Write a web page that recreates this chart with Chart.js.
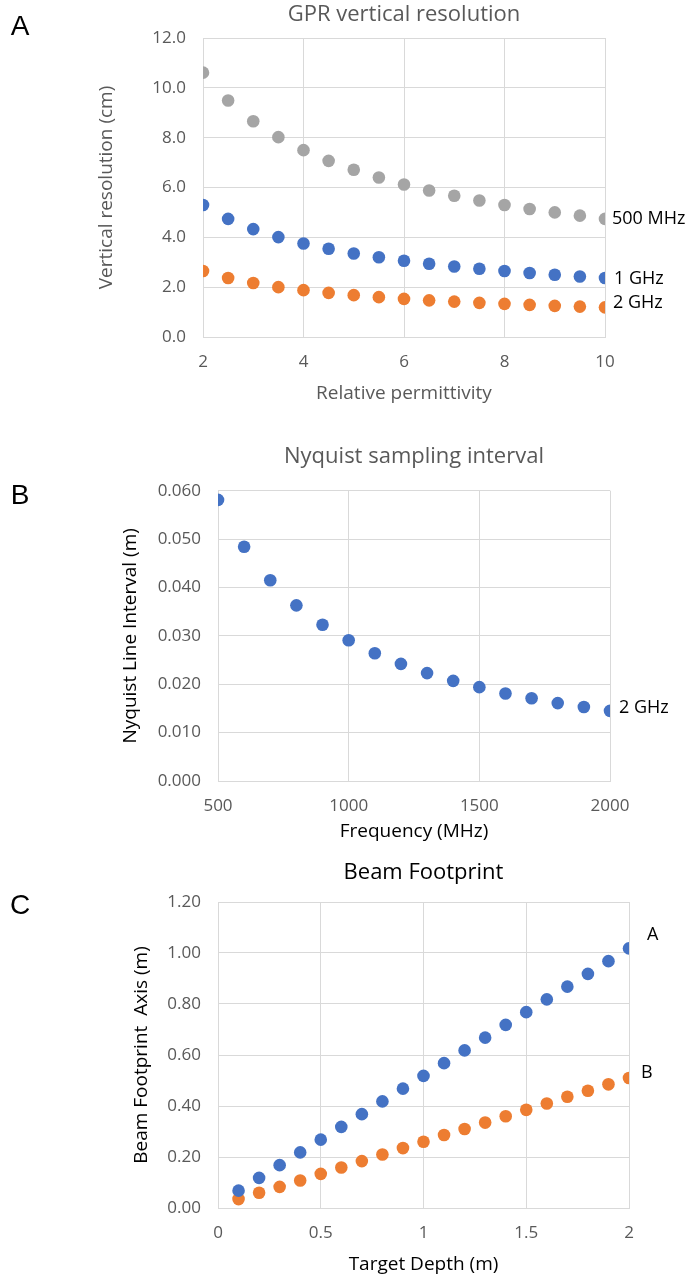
<!DOCTYPE html>
<html>
<head>
<meta charset="utf-8">
<script src="https://cdn.jsdelivr.net/npm/chart.js@4/dist/chart.umd.min.js"></script>
<style>
  html, body { margin: 0; padding: 0; background: #ffffff; }
  #wrap { position: relative; width: 695px; height: 1278px; }
  canvas { position: absolute; left: 0; }
</style>
</head>
<body>
<div id="wrap">
  <canvas id="chartResolucao" width="695" height="420" style="top:0px"></canvas>
  <canvas id="chartNyquist" width="695" height="430" style="top:420px"></canvas>
  <canvas id="chartFootprint" width="695" height="428" style="top:850px"></canvas>
</div>
<script>
// painel A — resolução vertical por permissividade
const permittivity = [2, 2.5, 3, 3.5, 4, 4.5, 5, 5.5, 6, 6.5, 7, 7.5, 8, 8.5, 9, 9.5, 10];
const res500MHz = [10.61, 9.49, 8.66, 8.02, 7.50, 7.07, 6.71, 6.40, 6.12, 5.88, 5.67, 5.48, 5.30, 5.14, 5.00, 4.87, 4.74];
const res1GHz = [5.30, 4.74, 4.33, 4.01, 3.75, 3.54, 3.35, 3.20, 3.06, 2.94, 2.83, 2.74, 2.65, 2.57, 2.50, 2.43, 2.37];
const res2GHz = [2.65, 2.37, 2.17, 2.00, 1.88, 1.77, 1.68, 1.60, 1.53, 1.47, 1.42, 1.37, 1.33, 1.29, 1.25, 1.22, 1.19];
const permittivityTicks = [2, 4, 6, 8, 10];
const resolutionTicks = [0, 2, 4, 6, 8, 10, 12];

// painel B — intervalo de Nyquist
const frequencyMHz = [500, 600, 700, 800, 900, 1000, 1100, 1200, 1300, 1400, 1500, 1600, 1700, 1800, 1900, 2000];
const nyquistInterval = [0.0581, 0.0484, 0.0415, 0.0363, 0.0323, 0.0291, 0.0264, 0.0242, 0.0223, 0.0207, 0.0194, 0.0181, 0.0171, 0.0161, 0.0153, 0.0145];
const frequencyTicks = [500, 1000, 1500, 2000];
const intervalTicks = [0, 0.01, 0.02, 0.03, 0.04, 0.05, 0.06];

// painel C — footprint do feixe
const targetDepth = [0.1, 0.2, 0.3, 0.4, 0.5, 0.6, 0.7, 0.8, 0.9, 1.0, 1.1, 1.2, 1.3, 1.4, 1.5, 1.6, 1.7, 1.8, 1.9, 2.0];
const footprintA = [0.068, 0.118, 0.168, 0.218, 0.268, 0.318, 0.368, 0.418, 0.468, 0.518, 0.568, 0.618, 0.668, 0.718, 0.768, 0.818, 0.868, 0.918, 0.968, 1.018];
const footprintB = [0.035, 0.060, 0.083, 0.108, 0.134, 0.159, 0.184, 0.210, 0.235, 0.260, 0.286, 0.310, 0.335, 0.360, 0.385, 0.410, 0.436, 0.460, 0.485, 0.510];
const depthTicks = [0, 0.5, 1, 1.5, 2];
const footprintTicks = [0, 0.2, 0.4, 0.6, 0.8, 1.0, 1.2];

const BLUE = '#4472c4';
const ORANGE = '#ed7d31';
const GRAY = '#a5a5a5';
const TEXT_GRAY = '#595959';
const GRID = '#d9d9d9';
const FONT = "'Open Sans', 'Noto Sans', sans-serif";

const toPoints = (xs, ys) => xs.map((x, i) => ({ x, y: ys[i] }));

// letra do painel + rótulos no fim de cada série
const panelDecor = {
  id: 'panelDecor',
  afterDatasetsDraw(chart, args, opts) {
    const ctx = chart.ctx;
    ctx.save();
    if (opts.letter) {
      ctx.font = "28px 'Liberation Sans', Arial, sans-serif";
      ctx.fillStyle = '#000000';
      ctx.textAlign = 'center';
      ctx.textBaseline = 'middle';
      ctx.fillText(opts.letter.text, opts.letter.x, opts.letter.y);
    }
    for (const item of opts.labels || []) {
      const meta = chart.getDatasetMeta(item.dataset);
      const last = meta.data[meta.data.length - 1];
      if (!last) continue;
      ctx.font = `${item.size || 17}px ${FONT}`;
      ctx.fillStyle = '#000000';
      ctx.textAlign = 'left';
      ctx.textBaseline = 'middle';
      ctx.fillText(item.text, last.x + item.dx, last.y + item.dy);
    }
    ctx.restore();
  },
};

function buildChart(canvasId, cfg) {
  const ctx = document.getElementById(canvasId);
  const H = ctx.height;
  return new Chart(ctx, {
    type: 'scatter',
    data: { datasets: cfg.datasets },
    options: {
      responsive: false,
      animation: false,
      devicePixelRatio: 1,
      layout: { padding: { left: 0, right: 695 - cfg.area.right, top: 0, bottom: 0 } },
      plugins: {
        legend: { display: false },
        tooltip: { enabled: false },
        title: {
          display: true,
          fullSize: false,
          text: cfg.title,
          color: cfg.titleColor,
          font: { family: FONT, size: 22, weight: 'normal' },
          padding: cfg.titlePadding,
        },
        panelDecor: { letter: cfg.letter, labels: cfg.labels },
      },
      scales: {
        x: {
          type: 'linear',
          min: cfg.xTicks[0],
          max: cfg.xTicks[cfg.xTicks.length - 1],
          afterBuildTicks: (scale) => { scale.ticks = cfg.xTicks.map((v) => ({ value: v })); },
          afterFit: (scale) => { scale.height = H - cfg.area.bottom; },
          grid: { color: GRID, lineWidth: 1, drawTicks: false },
          border: { display: true, color: GRID, width: 1 },
          ticks: {
            color: TEXT_GRAY,
            padding: 14.8,
            maxRotation: 0,
            font: { family: FONT, size: 17 },
            callback: cfg.xFormat,
          },
          title: {
            display: true,
            text: cfg.xTitle,
            color: cfg.xTitleColor,
            font: { family: FONT, size: 19 },
            padding: { top: 0, bottom: cfg.xTitlePad },
          },
        },
        y: {
          type: 'linear',
          min: cfg.yTicks[0],
          max: cfg.yTicks[cfg.yTicks.length - 1],
          afterBuildTicks: (scale) => { scale.ticks = cfg.yTicks.map((v) => ({ value: v })); },
          afterFit: (scale) => { scale.width = cfg.area.left; },
          grid: { color: GRID, lineWidth: 1, drawTicks: false },
          border: { display: true, color: GRID, width: 1 },
          ticks: {
            color: TEXT_GRAY,
            padding: 17,
            font: { family: FONT, size: 17 },
            callback: cfg.yFormat,
          },
          title: {
            display: true,
            text: cfg.yTitle,
            color: cfg.yTitleColor,
            font: { family: FONT, size: 19 },
            padding: { top: cfg.yTitlePad, bottom: 0 },
          },
        },
      },
    },
    plugins: [panelDecor],
  });
}

const dotStyle = (color) => ({
  backgroundColor: color,
  borderColor: color,
  borderWidth: 0,
  pointRadius: 6.3,
  pointHoverRadius: 6.3,
});

buildChart('chartResolucao', {
  title: 'GPR vertical resolution',
  titleColor: TEXT_GRAY,
  titlePadding: { top: 1.8, bottom: 9.8 },
  area: { left: 203, right: 605, bottom: 337 },
  xTicks: permittivityTicks,
  yTicks: resolutionTicks,
  xFormat: (v) => String(v),
  yFormat: (v) => Number(v).toFixed(1),
  xTitle: 'Relative permittivity',
  xTitleColor: TEXT_GRAY,
  xTitlePad: 14.6,
  yTitle: 'Vertical resolution (cm)',
  yTitleColor: TEXT_GRAY,
  yTitlePad: 95.6,
  letter: { text: 'A', x: 20, y: 27 },
  labels: [
    { dataset: 0, text: '500 MHz', dx: 7, dy: 0, size: 18 },
    { dataset: 1, text: '1 GHz', dx: 9, dy: 1, size: 18 },
    { dataset: 2, text: '2 GHz', dx: 8, dy: -4, size: 18 },
  ],
  datasets: [
    { label: '500 MHz', data: toPoints(permittivity, res500MHz), ...dotStyle(GRAY) },
    { label: '1 GHz', data: toPoints(permittivity, res1GHz), ...dotStyle(BLUE) },
    { label: '2 GHz', data: toPoints(permittivity, res2GHz), ...dotStyle(ORANGE) },
  ],
});

buildChart('chartNyquist', {
  title: 'Nyquist sampling interval',
  titleColor: TEXT_GRAY,
  titlePadding: { top: 23.8, bottom: 20.5 },
  area: { left: 218, right: 610, bottom: 361 },
  xTicks: frequencyTicks,
  yTicks: intervalTicks,
  xFormat: (v) => String(v),
  yFormat: (v) => Number(v).toFixed(3),
  xTitle: 'Frequency (MHz)',
  xTitleColor: '#000000',
  xTitlePad: 6.6,
  yTitle: 'Nyquist Line Interval (m)',
  yTitleColor: '#000000',
  yTitlePad: 119.6,
  letter: { text: 'B', x: 20, y: 76 },
  labels: [
    { dataset: 0, text: '2 GHz', dx: 9, dy: -3, size: 18 },
  ],
  datasets: [
    { label: '2 GHz', data: toPoints(frequencyMHz, nyquistInterval), ...dotStyle(BLUE) },
  ],
});

buildChart('chartFootprint', {
  title: 'Beam Footprint',
  titleColor: '#000000',
  titlePadding: { top: 9.8, bottom: 15.8 },
  area: { left: 218, right: 629, bottom: 358 },
  xTicks: depthTicks,
  yTicks: footprintTicks,
  xFormat: (v) => String(v),
  yFormat: (v) => Number(v).toFixed(2),
  xTitle: 'Target Depth (m)',
  xTitleColor: '#000000',
  xTitlePad: 1.6,
  yTitle: 'Beam Footprint  Axis (m)',
  yTitleColor: '#000000',
  yTitlePad: 130.6,
  letter: { text: 'C', x: 20, y: 56 },
  labels: [
    { dataset: 0, text: 'A', dx: 18, dy: -14, size: 18 },
    { dataset: 1, text: 'B', dx: 12, dy: -5, size: 18 },
  ],
  datasets: [
    { label: 'A', data: toPoints(targetDepth, footprintA), ...dotStyle(BLUE) },
    { label: 'B', data: toPoints(targetDepth, footprintB), ...dotStyle(ORANGE) },
  ],
});
</script>
</body>
</html>
